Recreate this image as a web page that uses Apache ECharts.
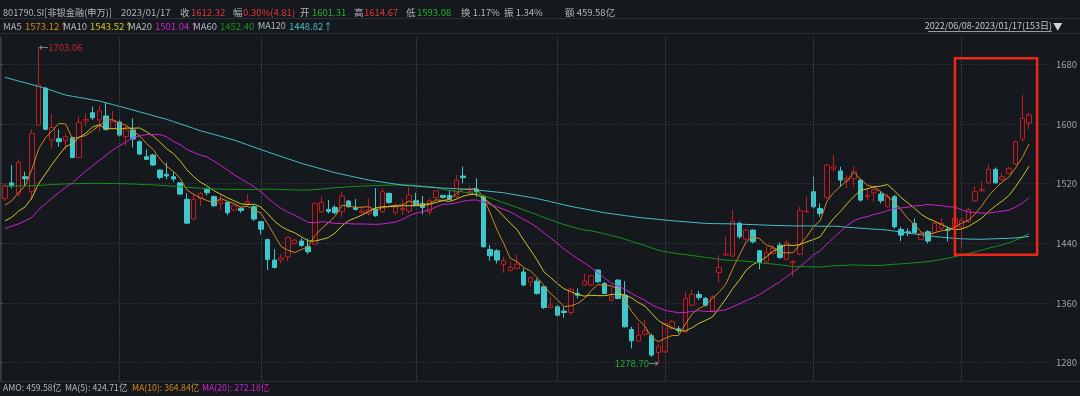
<!DOCTYPE html>
<html><head><meta charset="utf-8">
<script src="https://cdn.jsdelivr.net/npm/echarts@6/dist/echarts.min.js"></script>
<style>html,body{margin:0;padding:0;background:#15181d;}#c{width:1080px;height:396px;}</style>
</head><body><div id="c"></div>
<script>
// ---------- data ----------
const holidays = ['2022-09-12','2022-10-03','2022-10-04','2022-10-05','2022-10-06','2022-10-07','2023-01-02'];
function tradingDays(from, to) {
  const out = []; const d = new Date(from + 'T00:00:00Z'); const end = new Date(to + 'T00:00:00Z');
  while (d <= end) {
    const w = d.getUTCDay(); const s = d.toISOString().slice(0, 10);
    if (w !== 0 && w !== 6 && holidays.indexOf(s) < 0) out.push(s.replace(/-/g, '/'));
    d.setUTCDate(d.getUTCDate() + 1);
  }
  return out;
}
const dates = tradingDays('2022-06-08', '2023-01-17');

const opens = [1500,1521,1506.9,1529.3,1509.2,1598.6,1647.8,1578.5,1580.3,1577.6,
1581.6,1555.2,1604,1615.1,1605.3,1610.7,1594.1,1602.6,1583,1591.9,
1576.2,1556.1,1558.4,1538.2,1532.4,1529.3,1521.2,1499,1472.5,1500.2,
1512.3,1502.5,1493.5,1494.9,1484.6,1487,1493,1489,1469,1445,
1417.5,1417.5,1422,1439.9,1443,1435.4,1439,1482.3,1485.5,1488.1,
1482.3,1496.6,1487.7,1481,1480.1,1485.9,1482.3,1506.9,1481.4,1485,
1483.2,1497.1,1493.5,1482.3,1501.5,1504.2,1504.2,1502.5,1530.2,1507,
1512.7,1503,1431.8,1430,1411.7,1403.6,1406.3,1401.4,1388,1389.3,
1381.7,1354,1354.9,1349.1,1347.3,1372.8,1384,1384,1404.1,1386.2,
1363.8,1390.7,1370.5,1324.5,1308.9,1318.2,1316,1293.6,1294.6,1325.8,
1325.4,1321.4,1357.1,1371.4,1366.1,1349.5,1401,1424.2,1422.9,1466.7,
1445.7,1457.7,1430,1415.3,1426.4,1437.6,1418.4,1413.9,1425.5,1482.3,
1509.2,1486.8,1501.6,1539.6,1536.9,1523.9,1527,1524.8,1502.5,1507.8,
1506,1489.1,1502.5,1458.6,1455.5,1466.7,1445.2,1455.5,1454.6,1460,
1459.1,1462.2,1462,1469,1497.1,1510.5,1521.2,1539.1,1525.7,1533.8,
1546.3,1579.8,1601.31];
const closes = [1517,1517,1548.5,1526.6,1587.4,1652.2,1592.8,1595.5,1576.2,1583,
1555.2,1602.2,1606,1608.4,1617.8,1592.8,1603.1,1585.2,1591.9,1579.8,
1559.7,1552.5,1545,1528.4,1530.2,1526.2,1506,1467,1499,1506.9,
1507.8,1490.4,1497,1481,1490.4,1484,1496,1472.5,1459,1418.4,
1407.7,1420.6,1447.9,1444.3,1437.2,1428.7,1493.5,1494.8,1482.8,1481,
1503.3,1489,1485.5,1483.2,1484.6,1477,1509.2,1494.8,1489,1487,
1504.7,1490.4,1488.1,1497.1,1510.5,1501.5,1498.9,1524.8,1528,1509.2,
1509.2,1435.4,1423.3,1417.5,1416.6,1407.7,1412.1,1384,1394.2,1372.8,
1354,1357.1,1343.7,1347.3,1378.6,1370.5,1389.3,1396.5,1388.4,1372.8,
1368.3,1366.1,1328.1,1309.3,1316.9,1322.7,1290.1,1301.3,1332.5,1334.8,
1323.6,1366.1,1371.4,1367.4,1357.1,1368.3,1407.7,1425.5,1468.9,1448.8,
1457.7,1442.1,1413.9,1427.3,1433.1,1421.1,1440.7,1415.3,1483.7,1483.2,
1489.1,1480.1,1544.9,1542.7,1524.8,1527,1536,1498,1504.2,1511.4,
1497.1,1502.5,1462.2,1451,1454.2,1454.2,1453.3,1443,1466.7,1466.7,
1457.7,1473.4,1471,1485.5,1509.2,1512.3,1539.1,1521.2,1529.3,1540.5,
1576.2,1607.51,1612.32];
const lows = [1497,1513.6,1502.5,1515.9,1498,1597.2,1592,1567.3,1569.5,1565,
1554,1554,1598,1605.3,1589.7,1591,1591.9,1583,1570.4,1568.6,
1558,1551.6,1544,1525.7,1525.7,1522.6,1504.7,1466,1471,1490,
1504,1489,1484.6,1477.9,1483,1481,1491,1470,1452,1404,
1406,1413,1416.6,1438,1435.4,1425.5,1437.6,1481,1480.1,1478.8,
1474.7,1488,1484,1480,1477,1475.6,1481,1493,1477.9,1477.9,
1480.1,1490,1478.7,1477.9,1498,1500,1497.9,1500,1520.4,1504.7,
1502.5,1434,1416.6,1413,1400.5,1402,1405,1382.6,1381.7,1371,
1352,1353,1342.4,1340.1,1343.7,1366,1383,1383,1387,1371.9,
1362,1365,1327,1299,1308,1317,1288,1278.7,1293,1324,
1319.1,1320,1356,1364,1355,1348,1387.5,1423,1422,1446,
1444,1440,1405,1414,1425,1419,1417,1395.1,1424,1481,
1486.8,1475.6,1500,1536,1515.9,1513.6,1515.9,1495.8,1498,1495.8,
1493.5,1488,1460,1443,1449.7,1453,1444.3,1439.9,1453,1457.7,
1442.1,1460,1434,1467,1495.8,1509.2,1520,1520,1524.8,1533,
1545,1576.2,1593.08];
const highs = [1520,1544.9,1553,1536,1592.8,1703.06,1650,1613.3,1592.8,1587.4,
1583,1610.7,1614,1623.2,1625.4,1628.5,1617.4,1605,1597.3,1607.5,
1578,1566,1560,1539,1548,1536,1522,1507,1506.9,1509,
1515,1504,1506,1496,1492,1488,1506,1491,1470,1446,
1432.3,1425.5,1449,1446,1446.6,1446.6,1495,1503.3,1498,1491.3,
1508.3,1498,1499.3,1490,1500.2,1514,1513.6,1508,1493.5,1498.9,
1515.9,1507.8,1503.3,1500.2,1511.5,1505,1511.4,1531.5,1542.7,1517.2,
1527,1505,1437.6,1432,1422,1415.3,1425.5,1406.3,1395,1392.9,
1383,1367.4,1357,1354.9,1380.8,1379.5,1399.6,1398,1405,1388,
1381.7,1392,1389.3,1328.1,1333.4,1337,1319,1305.7,1333.4,1337.9,
1329,1375,1378,1376,1368,1370,1424.2,1448.8,1484.6,1469,
1459,1459,1431,1435.4,1437.6,1441.2,1445.2,1417.5,1489,1503.3,
1529.3,1493.5,1546,1558.4,1542.7,1531.5,1543.6,1525.5,1515.9,1515.9,
1509,1506.9,1505,1462.2,1460,1473.4,1455.5,1457.7,1469,1473.4,
1462.2,1475,1474,1487,1515.9,1522.6,1546.3,1541.8,1534.7,1542.7,
1577.6,1638.8,1614.67];

// moving-average values for days whose window starts before the shown range
const ma5Head = [1491,1497,1508,1517];
const ma10Head = [1470,1475,1483,1489,1501,1520,1533,1546,1558];
const ma20Head = [1460,1463,1466,1470,1475,1485,1493,1501,1508,1515,1521,1529,1537,1544,1551,1558,1565,1571,1576];
const ma60Head = [1516.8,1516.9,1517.0,1517.1,1517.2,1517.6,1518.2,1518.8,1519.2,1519.6,
1519.9,1520.1,1520.3,1520.4,1520.4,1520.3,1520.2,1520.0,1519.8,1519.5,
1519.1,1518.7,1518.3,1517.8,1517.2,1516.6,1515.9,1515.2,1514.5,1513.9,
1513.4,1513.0,1512.7,1512.5,1512.3,1512.2,1512.2,1512.3,1512.5,1512.7,
1512.5,1512.2,1511.9,1511.6,1511.4,1511.6,1512.1,1512.8,1513.6,1514.4,
1515.1,1515.7,1516.2,1516.7,1517.1,1517.5,1517.8,1518.0,1518.2];
const ma120Head = [1662.5,1660.1,1657.6,1655.2,1652.7,1650.3,1647.8,1644.8,1641.8,1638.8,
1637.2,1635.6,1634.0,1632.4,1630.8,1628.4,1626.0,1623.6,1621.2,1618.7,
1616.2,1613.7,1611.2,1608.7,1606.2,1603.2,1600.2,1597.2,1594.1,1591.0,
1588.5,1586.0,1583.5,1581.0,1578.5,1575.3,1572.1,1568.9,1565.7,1562.5,
1559.4,1556.4,1553.3,1550.3,1547.2,1544.7,1542.2,1539.7,1537.2,1534.7,
1532.7,1530.7,1528.7,1526.8,1524.8,1523.5,1522.1,1520.8,1519.4,1518.1,
1517.4,1516.7,1515.9,1515.2,1514.5,1514.1,1513.6,1513.2,1512.7,1512.3,
1511.4,1510.5,1509.6,1508.7,1507.8,1506.2,1504.7,1503.1,1501.6,1500.0,
1497.9,1495.8,1493.7,1491.6,1489.5,1487.8,1486.1,1484.4,1482.7,1481.0,
1479.7,1478.5,1477.2,1476.0,1474.7,1473.8,1472.9,1472.1,1471.2,1470.3,
1469.6,1468.9,1468.1,1467.4,1466.7,1466.5,1466.3,1466.2,1466.0,1465.8,
1465.4,1465.1,1464.7,1464.4,1464.0,1463.8,1463.6,1463.4,1463.2];

const yTicks = [1280,1360,1440,1520,1600,1680];

// ---------- derived ----------
function movingAvg(n, head) {
  return closes.map(function (c, i) {
    if (i < n - 1) return head[i];
    let s = 0; for (let k = i - n + 1; k <= i; k++) s += closes[k];
    return +(s / n).toFixed(2);
  });
}
const ma5 = movingAvg(5, ma5Head), ma10 = movingAvg(10, ma10Head), ma20 = movingAvg(20, ma20Head),
      ma60 = movingAvg(60, ma60Head), ma120 = movingAvg(120, ma120Head);
const kdata = dates.map(function (d, i) { return [opens[i], closes[i], lows[i], highs[i]]; });
const monthStarts = dates.filter(function (d, i) { return i > 0 && d.slice(0, 7) !== dates[i - 1].slice(0, 7); });
let hiIdx = 0, loIdx = 0;
highs.forEach(function (v, i) { if (v > highs[hiIdx]) hiIdx = i; });
lows.forEach(function (v, i) { if (v < lows[loIdx]) loIdx = i; });

// ---------- style ----------
const BG = '#15181d';
const FONT = '"Noto Sans CJK SC","Liberation Sans",sans-serif';
const FS = 9.5;
const GRAY = '#b2b6bb', RED = '#e0343a', GREEN = '#2bae33';
const C5 = '#d2861e', C10 = '#d0c622', C20 = '#cc22cc', C60 = '#17911b', C120 = '#46bdc5';
const GRIDC = '#3a3f47';
const Y_MIN = 1240, Y_MAX = 1720;

const chart = echarts.init(document.getElementById('c'), null, {renderer: 'canvas'});

function maSeries(name, data, color, extra) {
  const s = {name: name, type: 'line', data: data, xAxisIndex: 0, yAxisIndex: 0, showSymbol: false,
    symbol: 'none', lineStyle: {width: 1, color: color}, z: 4, silent: true};
  return Object.assign(s, extra || {});
}
function txt(x, y, text, color, align, size) {
  return {type: 'text', x: x, y: y, z: 101, silent: true,
    style: {text: text, fill: color, fontSize: size || FS, fontFamily: FONT, align: align || 'left', verticalAlign: 'middle'}};
}

const header = [
  {type: 'rect', shape: {x: 0, y: 0, width: 1080, height: 37}, style: {fill: BG}, z: 100, silent: true},
  {type: 'rect', shape: {x: 0, y: 381, width: 1080, height: 15}, style: {fill: BG}, z: 100, silent: true},
  {type: 'line', shape: {x1: 0, y1: 18.5, x2: 1080, y2: 18.5}, style: {stroke: '#2a2e35', lineWidth: 1}, z: 101},
  {type: 'line', shape: {x1: 0, y1: 33.5, x2: 1080, y2: 33.5}, style: {stroke: '#2a2e35', lineWidth: 1}, z: 101},
  {type: 'line', shape: {x1: 0, y1: 381.5, x2: 1080, y2: 381.5}, style: {stroke: '#2a2e35', lineWidth: 1}, z: 101},
  {type: 'line', shape: {x1: 1.5, y1: 37, x2: 1.5, y2: 381}, style: {stroke: '#2a2e35', lineWidth: 1}, z: 101},
  txt(3, 12.5, '801790.SI[非银金融(申万)]', GRAY, 'left', 9.2),
  txt(121, 12.5, '2023/01/17', GRAY),
  txt(180, 12.5, '收', GRAY), txt(191, 12.5, '1612.32', RED),
  txt(233, 12.5, '幅', GRAY), txt(243, 12.5, '0.30%(4.81)', RED),
  txt(300, 12.5, '开', GRAY), txt(312, 12.5, '1601.31', GREEN),
  txt(354, 12.5, '高', GRAY), txt(364, 12.5, '1614.67', RED),
  txt(406, 12.5, '低', GRAY), txt(417, 12.5, '1593.08', GREEN),
  txt(461, 12.5, '换 1.17%', GRAY),
  txt(504, 12.5, '振 1.34%', GRAY),
  txt(565, 12.5, '额 459.58亿', GRAY),
  txt(3, 26, 'MA5', GRAY), txt(25, 26, '1573.12↑', C5),
  txt(63, 26, 'MA10', GRAY), txt(90, 26, '1543.52↑', C10),
  txt(128, 26, 'MA20', GRAY), txt(155, 26, '1501.04↑', C20),
  txt(193, 26, 'MA60', GRAY), txt(220, 26, '1452.40↑', C60),
  txt(258, 26, 'MA120', GRAY, 'left', 9), txt(289, 26, '1448.82↑', C120),
  txt(1052, 26, dates[0] + '-' + dates[dates.length - 1] + '(' + dates.length + '日)', '#c4c8cc', 'right', 9),
  {type: 'line', shape: {x1: 928, y1: 31.5, x2: 1052, y2: 31.5}, style: {stroke: '#9a9ea4', lineWidth: 1}, z: 101},
  txt(1053, 26, '▼', '#d0d4d8'),
  txt(3, 388, 'AMO: 459.58亿', GRAY, 'left', 8.7),
  txt(65, 388, 'MA(5): 424.71亿', GRAY, 'left', 8.7),
  txt(132, 388, 'MA(10): 364.84亿', C5, 'left', 8.7),
  txt(202, 388, 'MA(20): 272.18亿', C20, 'left', 8.7)
];

const option = {
  backgroundColor: BG,
  animation: false,
  grid: [
    {left: 1.6, right: 47.6, top: 34.48, height: 358.0},
    {left: 0, right: 27, top: 34.48, height: 358.0}
  ],
  xAxis: [
    {type: 'category', gridIndex: 0, data: dates, boundaryGap: true,
     axisLine: {show: false}, axisTick: {show: false}, axisLabel: {show: false}, splitLine: {show: false}},
    {type: 'value', gridIndex: 1, min: 0, max: 1, show: false}
  ],
  yAxis: [
    {type: 'value', gridIndex: 0, min: Y_MIN, max: Y_MAX, show: false, splitLine: {show: false}},
    {type: 'value', gridIndex: 1, position: 'right', min: Y_MIN, max: Y_MAX,
     axisLine: {show: true, lineStyle: {color: '#3a3f46'}},
     axisTick: {show: true, length: 3, customValues: yTicks, lineStyle: {color: '#555a61'}},
     axisLabel: {color: '#9ea3a9', fontSize: FS, fontFamily: FONT, margin: 4, customValues: yTicks,
       formatter: function (v) { return String(v); }},
     splitLine: {show: true, lineStyle: {color: GRIDC, type: [1, 2], width: 1}}}
  ],
  series: [
    {type: 'candlestick', name: 'K', data: kdata, xAxisIndex: 0, yAxisIndex: 0, barWidth: 5, z: 3,
     itemStyle: {color: BG, color0: '#3fc7cb', borderColor: '#c21c20', borderColor0: '#3fc7cb', borderWidth: 1},
     markPoint: {silent: true, symbol: 'circle', symbolSize: 0, animation: false,
       data: [
         {coord: [dates[hiIdx], highs[hiIdx]],
          label: {show: true, position: 'right', distance: 0, fontSize: FS, fontFamily: FONT,
            formatter: '{a|←}{b|' + highs[hiIdx].toFixed(2) + '}',
            rich: {a: {color: '#9aa0a6', fontSize: FS, fontFamily: FONT}, b: {color: '#c8282c', fontSize: FS, fontFamily: FONT}}}},
         {coord: [dates[loIdx], lows[loIdx]],
          label: {show: true, position: 'left', distance: 0, fontSize: FS, fontFamily: FONT,
            formatter: '{b|' + lows[loIdx].toFixed(2) + '}{a|→}',
            rich: {a: {color: '#9aa0a6', fontSize: FS, fontFamily: FONT}, b: {color: '#2aa33a', fontSize: FS, fontFamily: FONT}}}}
       ]}
    },
    maSeries('MA5', ma5, C5),
    maSeries('MA10', ma10, C10),
    maSeries('MA20', ma20, C20),
    maSeries('MA60', ma60, C60),
    maSeries('MA120', ma120, C120, {
      markLine: {silent: true, symbol: ['none', 'none'], animation: false, precision: 2,
        lineStyle: {color: '#5a6068', type: [1, 2], width: 1}, label: {show: false},
        emphasis: {disabled: true},
        data: monthStarts.map(function (d) { return {xAxis: d}; })}
    })
  ],
  graphic: {elements: header}
};
chart.setOption(option);

// highlight box around the last days, placed via the chart's own scales
const box = {from: 141, to: 152, top: 1688, bottom: 1424.5, extraBands: 1.2};
const pA = chart.convertToPixel({gridIndex: 0}, [box.from, box.top]);
const pB = chart.convertToPixel({gridIndex: 0}, [box.to, box.bottom]);
const band = (pB[0] - pA[0]) / (box.to - box.from);
chart.setOption({graphic: {elements: header.concat([
  {type: 'rect', z: 90, silent: true,
   shape: {x: pA[0], y: pA[1], width: pB[0] + band * box.extraBands - pA[0], height: pB[1] - pA[1]},
   style: {fill: 'none', stroke: '#f0261a', lineWidth: 2.5}}
])}});
</script>
</body></html>
